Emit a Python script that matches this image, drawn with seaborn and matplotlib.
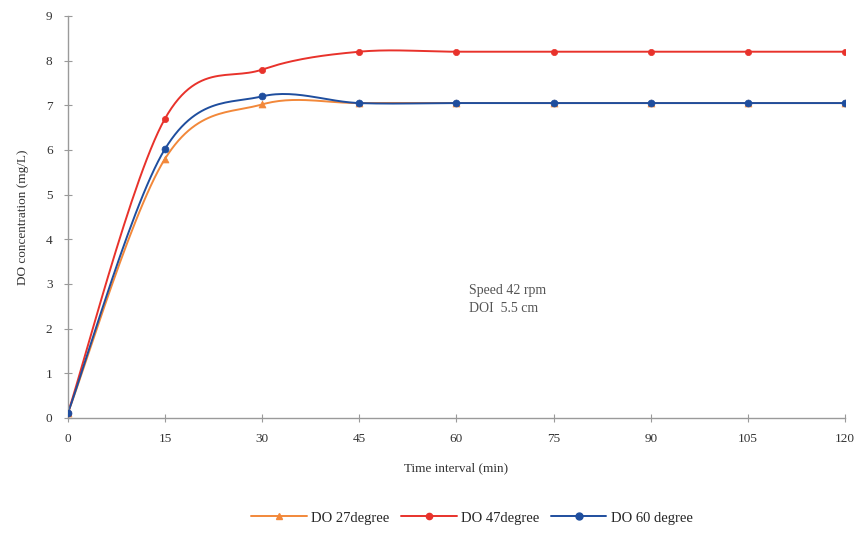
import numpy as np
import pandas as pd
import matplotlib
matplotlib.use("Agg")
import matplotlib.pyplot as plt
import seaborn as sns

time_min = [0, 15, 30, 45, 60, 75, 90, 105, 120]
do_27 = [0.1, 5.8, 7.02, 7.05, 7.05, 7.05, 7.05, 7.05, 7.05]
do_47 = [0.1, 6.7, 7.8, 8.2, 8.2, 8.2, 8.2, 8.2, 8.2]
do_60 = [0.1, 6.02, 7.2, 7.05, 7.05, 7.05, 7.05, 7.05, 7.05]
series_names = ["DO 27degree", "DO 47degree", "DO 60 degree"]
x_ticks = [0, 15, 30, 45, 60, 75, 90, 105, 120]
x_tick_labels = ["0", "15", "30", "45", "60", "75", "90", "105", "120"]
y_ticks = list(range(0, 10))

sns.set_theme(style="white")
plt.rcParams["font.family"] = ["Liberation Serif", "DejaVu Serif"]

colors = ["#F2883A", "#E8322B", "#1F4E9E"]
markers = ["^", "o", "o"]
msizes = [5, 4.5, 5]


def smooth(x, y, n=30):
    # Excel-style smoothed line (Catmull-Rom bezier through the data points)
    x = np.asarray(x, float)
    y = np.asarray(y, float)
    P = np.column_stack([x, y])
    out = [P[0]]
    for i in range(len(P) - 1):
        p0 = P[i - 1] if i > 0 else P[i]
        p1 = P[i]
        p2 = P[i + 1]
        p3 = P[i + 2] if i + 2 < len(P) else P[i + 1]
        c1 = p1 + (p2 - p0) / 6.0
        c2 = p2 - (p3 - p1) / 6.0
        t = np.linspace(0, 1, n)[1:, None]
        b = ((1 - t) ** 3) * p1 + 3 * ((1 - t) ** 2) * t * c1 + 3 * (1 - t) * t ** 2 * c2 + t ** 3 * p2
        out.extend(b)
    out = np.array(out)
    return out[:, 0], out[:, 1]


fig = plt.figure(figsize=(8.58, 5.33), dpi=100)
ax = fig.add_axes([0.079, 0.216, 0.906, 0.754])

frames = []
for name, vals in zip(series_names, [do_27, do_47, do_60]):
    frames.append(pd.DataFrame({"time": time_min, "DO": vals, "series": name}))
df = pd.concat(frames, ignore_index=True)

for name, c, m, ms in zip(series_names, colors, markers, msizes):
    sub = df[df["series"] == name]
    sx, sy = smooth(sub["time"], sub["DO"])
    ax.plot(sx, sy, color=c, lw=1.4, zorder=2)
    sns.scatterplot(data=sub, x="time", y="DO", color=c, marker=m, s=ms ** 2,
                    edgecolor=c, linewidth=0.5, ax=ax, zorder=3, legend=False)

handles = [plt.Line2D([0], [0], color=c, lw=1.4, marker=m, markersize=ms)
           for c, m, ms in zip(colors, markers, msizes)]
ax.legend(handles, series_names, loc="upper center", bbox_to_anchor=(0.52, -0.2),
          ncol=3, frameon=False, fontsize=10.5, handlelength=3.8, columnspacing=0.8,
          handletextpad=0.3)

ax.set_xlim(0, 120)
ax.set_ylim(0, 9)
ax.set_xticks(x_ticks)
ax.set_xticklabels(x_tick_labels)
ax.set_yticks(y_ticks)
for s in ["top", "right"]:
    ax.spines[s].set_visible(False)
for s in ["left", "bottom"]:
    ax.spines[s].set_color("#9a9a9a")
    ax.spines[s].set_linewidth(1.0)
ax.tick_params(axis="both", direction="inout", length=6, width=0.8, color="#9a9a9a",
               labelsize=9.5, labelcolor="#333333", pad=8)
ax.tick_params(axis="x", bottom=True)
ax.tick_params(axis="y", left=True)
ax.set_xlabel("Time interval (min)", fontsize=9.5, color="#333333", labelpad=12)
ax.set_ylabel("DO concentration (mg/L)", fontsize=9.5, color="#333333", labelpad=12)

ax.text(62, 3.0, "Speed 42 rpm\nDOI  5.5 cm", fontsize=10, color="#555555",
        va="top", ha="left", linespacing=1.5)

fig.savefig("out.png", dpi=100)
